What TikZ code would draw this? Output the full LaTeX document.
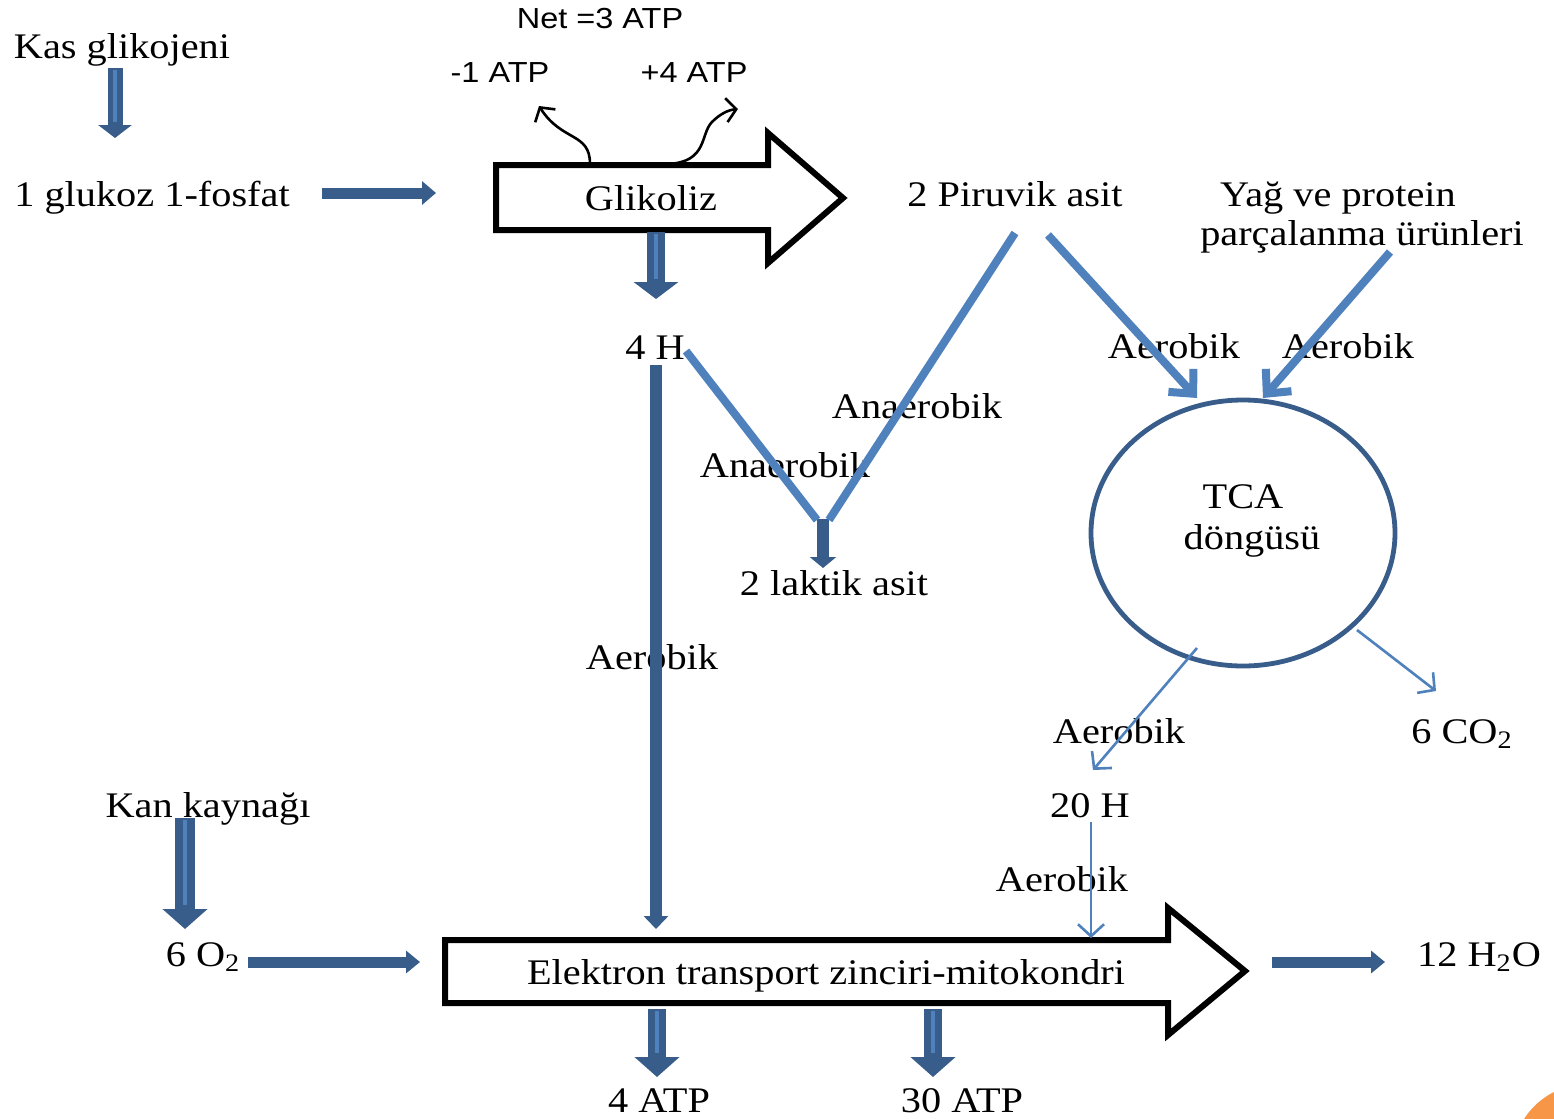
\documentclass[tikz,border=0pt]{standalone}
\usepackage{fontspec}
\setmainfont{Liberation Serif}[FakeStretch=1.12]
\newfontfamily\sansf{Liberation Sans}[FakeStretch=1.12]
\usetikzlibrary{arrows.meta,shapes.geometric}
\definecolor{dkblue}{HTML}{385D8A}
\definecolor{ltblue}{HTML}{4F81BD}
\definecolor{orng}{HTML}{F79646}
\begin{document}
\begin{tikzpicture}[x=0.5pt,y=-0.5pt,
  txt/.style={font=\fontsize{18}{21}\selectfont, inner sep=0pt, anchor=base},
  stxt/.style={font=\sansf\fontsize{14.5}{17}\selectfont, inner sep=0pt, anchor=base},
  streak/.style={ltblue, line width=1.6pt},
  lbline/.style={ltblue, line width=4pt},
  thinarr/.style={ltblue, line width=1.3pt, -{Straight Barb[length=6pt,width=13pt]}},
  thickarr/.style={ltblue, line width=4pt, -{Straight Barb[length=9pt,width=17pt]}},
  curvy/.style={black, line width=1.3pt, -{Straight Barb[length=5pt,width=12pt]}},
  bigarrow/.style={draw=black, line width=3pt, fill=white, line join=miter}]
\clip (0,0) rectangle (1554,1119);
\fill[white] (0,0) rectangle (1554,1119);
\fill[orng] (1588,1160) circle[radius=38pt];

% big block arrows
\draw[bigarrow] (496,165) -- (768,165) -- (768,133) -- (843,198) -- (768,263) -- (768,230) -- (496,230) -- cycle;
\draw[bigarrow] (445,940) -- (1168,940) -- (1168,908) -- (1245,971) -- (1168,1035) -- (1168,1003) -- (445,1003) -- cycle;

% texts
\node[txt] (kas) at (122,58) {Kas glikojeni};
\node[txt] (g1p) at (152,206) {1 glukoz 1-fosfat};
\node[stxt] (net) at (600,28) {Net =3 ATP};
\node[stxt] (m1) at (500,83) {-1 ATP};
\node[stxt] (p4) at (694,83) {+4 ATP};
\node[txt] (glik) at (651,210) {Glikoliz};
\node[txt] (pir) at (1015,206) {2 Piruvik asit};
\node[txt] (yag) at (1338,206) {Yağ ve protein};
\node[txt] (parc) at (1362,245) {parçalanma ürünleri};
\node[txt] (aer1) at (1174,358) {Aerobik};
\node[txt] (aer2) at (1348,358) {Aerobik};
\node[txt] (fourH) at (655,359) {4 H};
\node[txt] (ana1) at (917,418) {Anaerobik};
\node[txt] (ana2) at (785,477) {Anaerobik};
\node[txt] (lak) at (834,595) {2 laktik asit};
\node[ellipse, draw=dkblue, line width=2.4pt, minimum width=152pt, minimum height=133pt, inner sep=0pt] (tca) at (1243,533) {};
\node[txt] (tcat) at (1243,508) {TCA};
\node[txt] (dong) at (1252,549) {döngüsü};
\node[txt] (aer3) at (652,669) {Aerobik};
\node[txt] (aer4) at (1119,743) {Aerobik};
\node[txt] (co2) at (1462,743) {6 CO\textsubscript{2}};
\node[txt] (h20) at (1090,817) {20 H};
\node[txt] (aer5) at (1062,891) {Aerobik};
\node[txt] (kan) at (208,817) {Kan kaynağı};
\node[txt] (o2) at (203,966) {6 O\textsubscript{2}};
\node[txt] (etz) at (826,984) {Elektron transport zinciri-mitokondri};
\node[txt] (h2o) at (1479,966) {12 H\textsubscript{2}O};
\node[txt] (atp4) at (659,1112) {4 ATP};
\node[txt] (atp30) at (962,1112) {30 ATP};

% curvy ATP arrows
\coordinate (c1s) at (590,164); \coordinate (c1e) at (539,106);
\coordinate (c2s) at (668,164); \coordinate (c2e) at (738,109);
\draw[curvy] (c1s) .. controls (590,132) and (562,142) .. (c1e);
\draw[curvy] (c2s) .. controls (708,162) and (700,134) .. (712,122) .. controls (720,114) and (728,110) .. (c2e);

% dark block arrows
\coordinate (a1s) at (115,68);  \coordinate (a1e) at (115,138);
\draw[dkblue, line width=7.5pt, -{Triangle[width=16.5pt,length=6.5pt]}] (a1s) -- (a1e);
\draw[streak, shorten <=1pt, shorten >=8pt] (a1s) -- (a1e);
\coordinate (a2s) at (322,193); \coordinate (a2e) at (436,193);
\draw[dkblue, line width=5.5pt, -{Triangle[width=11.5pt,length=7pt]}] (a2s) -- (a2e);
\coordinate (a3s) at (656,232); \coordinate (a3e) at (656,299);
\draw[dkblue, line width=9pt, -{Triangle[width=22pt,length=8.5pt]}] (a3s) -- (a3e);
\draw[streak, shorten <=1pt, shorten >=10pt] (a3s) -- (a3e);
\coordinate (a4s) at (656,365); \coordinate (a4e) at (656,929);
\draw[dkblue, line width=6pt, -{Triangle[width=12pt,length=6.5pt]}] (a4s) -- (a4e);
\coordinate (a5s) at (823,519); \coordinate (a5e) at (823,568);
\draw[dkblue, line width=6pt, -{Triangle[width=13pt,length=5.5pt]}] (a5s) -- (a5e);
\coordinate (a6s) at (185,818); \coordinate (a6e) at (185,929);
\draw[dkblue, line width=10pt, -{Triangle[width=22pt,length=10pt]}] (a6s) -- (a6e);
\draw[streak, shorten <=1pt, shorten >=12pt] (a6s) -- (a6e);
\coordinate (a7s) at (248,962); \coordinate (a7e) at (420,962);
\draw[dkblue, line width=5.5pt, -{Triangle[width=11pt,length=7pt]}] (a7s) -- (a7e);
\coordinate (a8s) at (1272,962); \coordinate (a8e) at (1385,962);
\draw[dkblue, line width=5.5pt, -{Triangle[width=11pt,length=7pt]}] (a8s) -- (a8e);
\coordinate (a9s) at (657,1009); \coordinate (a9e) at (657,1077);
\draw[dkblue, line width=9pt, -{Triangle[width=22pt,length=10pt]}] (a9s) -- (a9e);
\draw[streak, shorten <=1pt, shorten >=12pt] (a9s) -- (a9e);
\coordinate (a10s) at (933,1009); \coordinate (a10e) at (933,1077);
\draw[dkblue, line width=9pt, -{Triangle[width=22pt,length=10pt]}] (a10s) -- (a10e);
\draw[streak, shorten <=1pt, shorten >=12pt] (a10s) -- (a10e);

% light blue lines
\coordinate (pirL) at (1015,233); \coordinate (vR) at (829,520);
\coordinate (hL) at (686,351); \coordinate (vL) at (817,520);
\draw[lbline] (pirL) -- (vR);
\draw[lbline] (hL) -- (vL);
\coordinate (pirR) at (1048,235); \coordinate (tcaA) at (1197,398);
\coordinate (yagS) at (1390,252); \coordinate (tcaB) at (1263,398);
\draw[thickarr] (pirR) -- (tcaA);
\draw[thickarr] (yagS) -- (tcaB);

% thin arrows
\coordinate (t1s) at (1197,648); \coordinate (t1e) at (1093,770);
\coordinate (t2s) at (1357,630); \coordinate (t2e) at (1436,691);
\coordinate (t3s) at (1091,822); \coordinate (t3e) at (1091,938);
\draw[thinarr] (t1s) -- (t1e);
\draw[thinarr] (t2s) -- (t2e);
\draw[thinarr] (t3s) -- (t3e);
\end{tikzpicture}
\end{document}
